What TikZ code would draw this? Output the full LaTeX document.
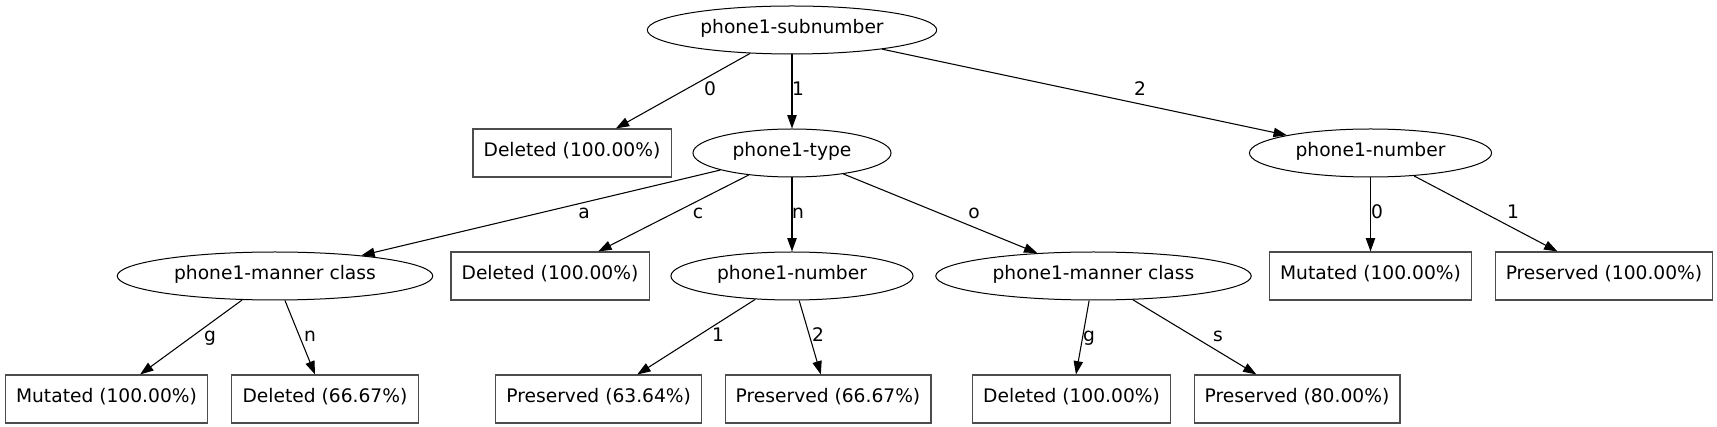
\documentclass[tikz,border=0pt]{standalone}
\usepackage{fontspec}
\setmainfont{DejaVu Sans}
\usepackage{tikz}
\usetikzlibrary{shapes.geometric}
\usetikzlibrary{arrows.meta}

\begin{document}
\begin{tikzpicture}
			[x=0.75pt, y=-0.75pt, thick, >={Triangle[length=10pt,width=7pt]},
			font=\fontsize{14pt}{17pt}\selectfont,
			main/.style = {draw, ellipse, line width=0.75pt, inner xsep=8pt, inner ysep=0pt, minimum height=36pt, text height=0.75em, text depth=0.25em},
			leaf/.style = {draw=black!70, rectangle, inner xsep=8pt, inner ysep=0pt, minimum height=36pt, text height=0.75em, text depth=0.25em},
			lbl/.style = {inner sep=0pt, text height=0.75em, text depth=0.25em}]
			\useasboundingbox (0,0) rectangle (1717,427);
			\node[main] (1) at (792,30) {phone1-subnumber};
			\node[leaf] (2) at (572,153) {Deleted (100.00\%)};
			\node[main] (3) at (792,153) {phone1-type};
			\node[main] (4) at (1370.5,153) {phone1-number};
			\node[main] (5) at (275,276) {phone1-manner class};
			\node[leaf] (6) at (550,276) {Deleted (100.00\%)};
			\node[main] (7) at (792,276) {phone1-number};
			\node[main] (8) at (1093.5,276) {phone1-manner class};
			\node[leaf] (9) at (1370.5,276) {Mutated (100.00\%)};
			\node[leaf] (10) at (1604,276) {Preserved (100.00\%)};
			\node[leaf] (11) at (106.5,399) {Mutated (100.00\%)};
			\node[leaf] (12) at (325,399) {Deleted (66.67\%)};
			\node[leaf] (13) at (598.7,399) {Preserved (63.64\%)};
			\node[leaf] (14) at (828,399) {Preserved (66.67\%)};
			\node[leaf] (15) at (1071.6,399) {Deleted (100.00\%)};
			\node[leaf] (16) at (1297,399) {Preserved (80.00\%)};
			% edge labels
			\node[lbl] (l2) at (710,92) {0};
			\node[lbl] (l3) at (798,92) {1};
			\node[lbl] (l4) at (1140,92) {2};
			\node[lbl] (l5) at (584,215) {a};
			\node[lbl] (l6) at (698,215) {c};
			\node[lbl] (l7) at (798,215) {n};
			\node[lbl] (l8) at (974,215) {o};
			\node[lbl] (l9) at (1377,215) {0};
			\node[lbl] (l10) at (1513,215) {1};
			\node[lbl] (l11) at (210,338) {g};
			\node[lbl] (l12) at (310,338) {n};
			\node[lbl] (l13) at (718,338) {1};
			\node[lbl] (l14) at (818,338) {2};
			\node[lbl] (l15) at (1089,338) {g};
			\node[lbl] (l16) at (1218,338) {s};
            \draw[->] (1) -- (2) ;
            \draw[->] (1) -- (3) ;
            \draw[->] (1) -- (4) ;
            \draw[->] (3) -- (5) ;
            \draw[->] (3) -- (6) ;
            \draw[->] (3) -- (7) ;
            \draw[->] (3) -- (8) ;
            \draw[->] (4) -- (9) ;
            \draw[->] (4) -- (10) ;
            \draw[->] (5) -- (11) ;
            \draw[->] (5) -- (12) ;
            \draw[->] (7) -- (13) ;
            \draw[->] (7) -- (14) ;
            \draw[->] (8) -- (15) ;
            \draw[->] (8) -- (16) ;
		\end{tikzpicture}
\end{document}
